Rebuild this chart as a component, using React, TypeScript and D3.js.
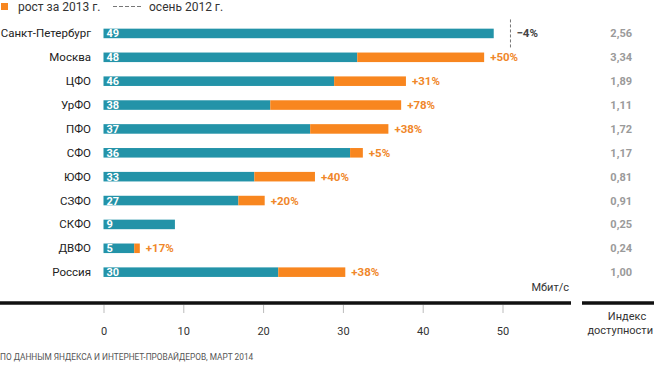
import { useEffect, useRef } from 'react'
import * as d3 from 'd3'

const regions = ['Санкт-Петербург', 'Москва', 'ЦФО', 'УрФО', 'ПФО', 'СФО', 'ЮФО', 'СЗФО', 'СКФО', 'ДВФО', 'Россия']
const barLabels = [49, 48, 46, 38, 37, 36, 33, 27, 9, 5, 30]
// speed, Mbit/s
const speed2012 = [51, 31.8, 28.9, 20.9, 25.9, 30.9, 18.9, 16.9, 8.95, 3.85, 21.9]
const speed2013 = [48.9, 47.7, 37.9, 37.3, 35.7, 32.5, 26.5, 20.2, 8.95, 4.55, 30.3]
const growth = ['−4%', '+50%', '+31%', '+78%', '+38%', '+5%', '+40%', '+20%', '', '+17%', '+38%']
const accessIndex = ['2,56', '3,34', '1,89', '1,11', '1,72', '1,17', '0,81', '0,91', '0,25', '0,24', '1,00']
const xTicks = [0, 10, 20, 30, 40, 50]

const TEAL = '#2393a8'
const ORANGE = '#f8861f'
const FONT = 'Roboto, "Noto Sans", sans-serif'

export default function App() {
  const ref = useRef<SVGSVGElement>(null)

  useEffect(() => {
    const svg = d3.select(ref.current)
    svg.selectAll('*').remove()

    const x = d3.scaleLinear().domain([0, 50]).range([103.5, 502.5])
    const y = d3.scaleBand<string>()
      .domain(regions)
      .range([21.5, 284.1])
      .paddingInner(0.6)
      .paddingOuter(0.3)
    const bw = y.bandwidth()

    const rows = regions.map((r, i) => ({
      region: r,
      label: barLabels[i],
      v12: speed2012[i],
      v13: speed2013[i],
      growth: growth[i],
      idx: accessIndex[i],
    }))

    // legend
    const legend = svg.append('g')
    legend.append('rect').attr('x', 1).attr('y', 3).attr('width', 7).attr('height', 7).attr('fill', ORANGE)
    legend.append('text').attr('x', 18).attr('y', 11).style('font-size', '12px').style('fill', '#333').text('рост за 2013 г.')
    legend.append('line').attr('x1', 113).attr('x2', 143).attr('y1', 6.5).attr('y2', 6.5)
      .attr('stroke', '#777').attr('stroke-dasharray', '4,2')
    legend.append('text').attr('x', 149).attr('y', 11).style('font-size', '12px').style('fill', '#333').text('осень 2012 г.')

    // category labels
    svg.append('g').selectAll('text')
      .data(rows)
      .join('text')
      .attr('x', 91)
      .attr('y', d => y(d.region)! + bw / 2 + 4)
      .attr('text-anchor', 'end')
      .style('font-size', '11.5px')
      .style('fill', '#222')
      .text(d => d.region)

    // teal bars (2012 level, or full bar if speed fell)
    svg.append('g').selectAll('rect')
      .data(rows)
      .join('rect')
      .attr('x', x(0))
      .attr('y', d => y(d.region)!)
      .attr('height', bw)
      .attr('width', d => x(Math.min(d.v12, d.v13)) - x(0))
      .attr('fill', TEAL)

    // orange growth
    svg.append('g').selectAll('rect')
      .data(rows.filter(d => d.v13 > d.v12))
      .join('rect')
      .attr('x', d => x(d.v12))
      .attr('y', d => y(d.region)!)
      .attr('height', bw)
      .attr('width', d => x(d.v13) - x(d.v12))
      .attr('fill', ORANGE)

    // dashed marker where speed fell
    const fell = rows.filter(d => d.v13 < d.v12)
    svg.append('g').selectAll('line')
      .data(fell)
      .join('line')
      .attr('x1', d => x(d.v12))
      .attr('x2', d => x(d.v12))
      .attr('y1', d => y(d.region)! + bw / 2 - 14)
      .attr('y2', d => y(d.region)! + bw / 2 + 16)
      .attr('stroke', '#777')
      .attr('stroke-dasharray', '3,2')

    // value labels inside bars
    svg.append('g').selectAll('text')
      .data(rows)
      .join('text')
      .attr('x', x(0) + 3)
      .attr('y', d => y(d.region)! + bw / 2 + 4)
      .style('font-size', '11px')
      .style('font-weight', 'bold')
      .style('fill', '#fff')
      .text(d => d.label)

    // growth labels
    svg.append('g').selectAll('text')
      .data(rows.filter(d => d.growth))
      .join('text')
      .attr('x', d => x(Math.max(d.v12, d.v13)) + 6)
      .attr('y', d => y(d.region)! + bw / 2 + 4)
      .style('font-size', '11.5px')
      .style('font-weight', 'bold')
      .style('fill', d => (d.v13 < d.v12 ? '#444' : '#f0872a'))
      .text(d => d.growth)

    // access index column
    svg.append('g').selectAll('text')
      .data(rows)
      .join('text')
      .attr('x', 632)
      .attr('y', d => y(d.region)! + bw / 2 + 4)
      .attr('text-anchor', 'end')
      .style('font-size', '11px')
      .style('font-weight', 'bold')
      .style('fill', '#9a9a9a')
      .text(d => d.idx)

    // axis
    const axisY = 303
    svg.append('line').attr('x1', 0).attr('x2', 571).attr('y1', axisY).attr('y2', axisY)
      .attr('stroke', '#111').attr('stroke-width', 3.5)
    svg.append('line').attr('x1', 582).attr('x2', 654).attr('y1', axisY).attr('y2', axisY)
      .attr('stroke', '#111').attr('stroke-width', 3.5)

    svg.append('g')
      .attr('transform', `translate(0,${axisY + 2})`)
      .call(d3.axisBottom(x).tickValues(xTicks).tickSize(8).tickPadding(14).tickFormat(d3.format('d')))
      .call(g => g.select('.domain').remove())
      .call(g => g.selectAll('.tick line').attr('stroke', '#bbb'))
      .call(g => g.selectAll('.tick text').style('font-size', '11px').style('fill', '#333').style('font-family', FONT))

    svg.append('text').attr('x', 569).attr('y', 291).attr('text-anchor', 'end')
      .style('font-size', '11px').style('fill', '#333').text('Мбит/с')

    svg.append('text').attr('x', 627).attr('y', 320).attr('text-anchor', 'middle')
      .style('font-size', '11px').style('fill', '#333').text('Индекс')
    svg.append('text').attr('x', 653).attr('y', 334).attr('text-anchor', 'end')
      .style('font-size', '11px').style('fill', '#333').text('доступности')

    svg.append('text').attr('x', 0).attr('y', 360)
      .style('font-size', '8.3px').style('fill', '#555').text('ПО ДАННЫМ ЯНДЕКСА И ИНТЕРНЕТ-ПРОВАЙДЕРОВ, МАРТ 2014')
  }, [])

  return (
    <svg
      ref={ref}
      width={654}
      height={366}
      style={{ position: 'absolute', left: 0, top: 0, background: '#fff', fontFamily: FONT }}
    />
  )
}
